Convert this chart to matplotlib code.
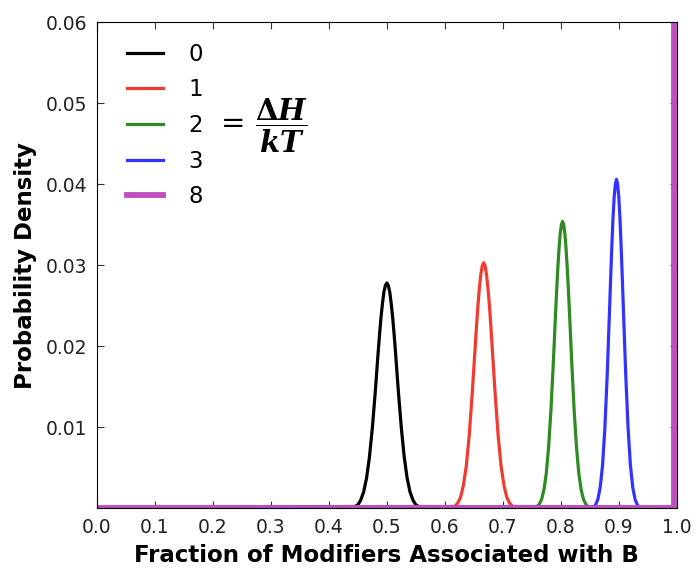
import matplotlib
matplotlib.use("Agg")
import matplotlib.pyplot as plt

# values
labels = ["0", "1", "2", "3", "8"]
colors = ["#000000", "#f03c30", "#2e8b22", "#3333ff", "#c04cc0"]

x0 = [0.0, 0.445, 0.450, 0.455, 0.460, 0.465, 0.470, 0.475, 0.480, 0.485, 0.4875, 0.490, 0.4925, 0.495, 0.4975,
      0.500, 0.5025, 0.505, 0.5075, 0.510, 0.5125, 0.515, 0.520, 0.525, 0.530, 0.535, 0.540, 0.545, 0.550, 0.555, 1.0]
y0 = [0.0, 0.0002, 0.0004, 0.0010, 0.0020, 0.0037, 0.0063, 0.0099, 0.0143, 0.0192, 0.0215, 0.0236, 0.0253, 0.0267, 0.0275,
      0.0278, 0.0275, 0.0267, 0.0253, 0.0236, 0.0215, 0.0192, 0.0143, 0.0099, 0.0063, 0.0037, 0.0020, 0.0010, 0.0004, 0.0002, 0.0]

x1 = [0.0, 0.617, 0.622, 0.627, 0.632, 0.637, 0.642, 0.647, 0.652, 0.6545, 0.657, 0.6595, 0.662, 0.6645,
      0.667, 0.6695, 0.672, 0.6745, 0.677, 0.6795, 0.682, 0.687, 0.692, 0.697, 0.702, 0.707, 0.712, 0.717, 1.0]
y1 = [0.0, 0.0002, 0.0006, 0.0013, 0.0028, 0.0052, 0.0089, 0.0139, 0.0195, 0.0223, 0.0249, 0.0271, 0.0288, 0.0299,
      0.0303, 0.0299, 0.0288, 0.0271, 0.0249, 0.0223, 0.0195, 0.0139, 0.0089, 0.0052, 0.0028, 0.0013, 0.0006, 0.0002, 0.0]

x2 = [0.0, 0.759, 0.763, 0.767, 0.771, 0.775, 0.779, 0.783, 0.787, 0.791, 0.793, 0.795, 0.797, 0.799, 0.801,
      0.803, 0.805, 0.807, 0.809, 0.811, 0.813, 0.815, 0.819, 0.823, 0.827, 0.831, 0.835, 0.839, 0.843, 0.847, 1.0]
y2 = [0.0, 0.0002, 0.0005, 0.0011, 0.0023, 0.0043, 0.0076, 0.0121, 0.0178, 0.0241, 0.0271, 0.0298, 0.0321, 0.0339, 0.0350,
      0.0354, 0.0350, 0.0339, 0.0321, 0.0298, 0.0271, 0.0241, 0.0178, 0.0121, 0.0076, 0.0043, 0.0023, 0.0011, 0.0005, 0.0002, 0.0]

x3 = [0.0, 0.856, 0.860, 0.864, 0.868, 0.872, 0.876, 0.880, 0.884, 0.886, 0.888, 0.890, 0.892, 0.894,
      0.896, 0.898, 0.900, 0.902, 0.904, 0.906, 0.908, 0.912, 0.916, 0.920, 0.924, 0.928, 0.932, 0.936, 1.0]
y3 = [0.0, 0.0001, 0.0004, 0.0011, 0.0026, 0.0053, 0.0099, 0.0164, 0.0244, 0.0285, 0.0324, 0.0358, 0.0384, 0.0400,
      0.0406, 0.0400, 0.0384, 0.0358, 0.0324, 0.0285, 0.0244, 0.0164, 0.0099, 0.0053, 0.0026, 0.0011, 0.0004, 0.0001, 0.0]

x8 = [0.0, 0.995, 0.995]
y8 = [0.0, 0.0, 0.25]

xs = [x0, x1, x2, x3, x8]
ys = [y0, y1, y2, y3, y8]
widths = [2.3, 2.3, 2.3, 2.3, 4.2]

xticks = [0.0, 0.1, 0.2, 0.3, 0.4, 0.5, 0.6, 0.7, 0.8, 0.9, 1.0]
yticks = [0.01, 0.02, 0.03, 0.04, 0.05, 0.06]

plt.rcParams['mathtext.fontset'] = 'dejavuserif'

fig = plt.figure(figsize=(6.97, 5.69), dpi=100)
ax = fig.add_axes([0.139, 0.107, 0.832, 0.854])

for x, y, c, lab, lw in zip(xs, ys, colors, labels, widths):
    ax.plot(x, y, color=c, lw=lw, label=lab)

ax.set_xlim(0, 1)
ax.set_ylim(0, 0.06)
ax.set_xticks(xticks)
ax.set_yticks(yticks)
ax.tick_params(direction='in', top=True, right=True, labelsize=13.5, colors='#333333',
               labelcolor='#222222', length=5, pad=7)
ax.set_xlabel('Fraction of Modifiers Associated with B', fontsize=16.5, fontweight='bold', labelpad=5)
ax.set_ylabel('Probability Density', fontsize=16.5, fontweight='bold', labelpad=6)

leg = ax.legend(loc='upper left', frameon=False, fontsize=16.5, handlelength=1.6,
                handletextpad=1.1, labelspacing=0.55, bbox_to_anchor=(0.016, 1.0))

ax.text(0.203, 0.787, r'$=\,\dfrac{\boldsymbol{\Delta H}}{\boldsymbol{kT}}$', transform=ax.transAxes,
        fontsize=21, va='center', ha='left')

fig.savefig('out.png', dpi=100, facecolor='white')
